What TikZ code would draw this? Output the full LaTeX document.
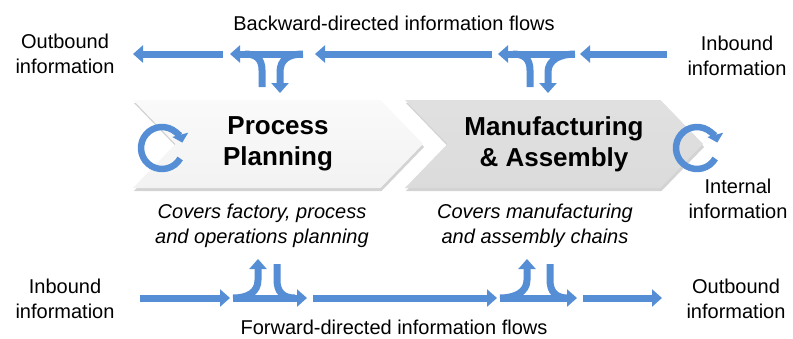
\documentclass[tikz,border=0pt]{standalone}
\usepackage{fontspec}
\setmainfont{Liberation Sans}
\usetikzlibrary{shapes.symbols,
                arrows.meta,
                shadows}
\definecolor{flowblue}{RGB}{85,142,213}
\tikzset{chevron/.style=
   {signal,
    signal from=west,
    signal to=east,
    signal pointer angle=92,
    minimum height=88pt,
    inner sep=0pt,
    align=center,
    font=\fontsize{26}{31}\selectfont\bfseries,
    drop shadow={shadow xshift=1pt, shadow yshift=-3pt, opacity=.35}}}
\tikzset{txt/.style = {align=center, font=\fontsize{20}{25}\selectfont}}
\tikzset{flow/.style = {draw=flowblue, line width=7pt, -{Triangle[width=17pt,length=10pt]}}}
\tikzset{branch/.style = {draw=flowblue, line width=7pt}}
\tikzset{loopflow/.style = {draw=flowblue, line width=6.5pt, -{Triangle[width=16pt,length=8pt]}}}

\begin{document}
\begin{tikzpicture}[x=1pt, y=-1pt]
    \useasboundingbox (0,0) rectangle (793,338);

    % Blocks
    \node [chevron, minimum width=298pt, top color=gray!24, bottom color=gray!28]
        (assembly) at (554,144) {Manufacturing\\\& Assembly};
    \node [chevron, minimum width=290pt, top color=gray!4, bottom color=gray!10]
        (planning) at (278,144) {Process\\Planning};

    % Internal loops
    \coordinate (loop1) at (162,148);
    \coordinate (loop2) at (697,148);
    \path [loopflow] ([shift={(30:21)}] loop1) arc [start angle=30, end angle=345, radius=21];
    \path [loopflow] ([shift={(30:21)}] loop2) arc [start angle=30, end angle=345, radius=21];

    % Texts
    \node [txt] (backtitle) at (394,23) {Backward-directed information flows};
    \node [txt] (fwdtitle) at (394,327) {Forward-directed information flows};
    \node [txt] (outtop) at (65,54) {Outbound\\information};
    \node [txt] (intop) at (737,56) {Inbound\\information};
    \node [txt] (internal) at (738,199) {Internal\\information};
    \node [txt] (inbottom) at (65,299) {Inbound\\information};
    \node [txt] (outbottom) at (736,299) {Outbound\\information};
    \node [txt, font=\fontsize{20}{25}\selectfont\itshape] (coverplan) at (262,226)
        {Covers factory, process\\and operations planning};
    \node [txt, font=\fontsize{20}{25}\selectfont\itshape] (coverasm) at (535,226)
        {Covers manufacturing\\and assembly chains};

    % Draw edges
    % Backward flows
    \path [flow] (223,54) -- (133,54);
    \path [flow] (303,54) -- (230,54);
    \path [branch] (262,87) -- (262,70) .. controls (262,59) and (256,54) .. (245,54);
    \path [flow] (303,54) .. controls (288,54) and (280,60) .. (280,72) -- (280,93);
    \path [flow] (492,54) -- (315,54);
    \path [flow] (575,54) -- (498,54);
    \path [branch] (530,87) -- (530,70) .. controls (530,59) and (524,54) .. (513,54);
    \path [flow] (575,54) .. controls (560,54) and (548,60) .. (548,72) -- (548,93);
    \path [flow] (667,54) -- (580,54);

    % Forward flows
    \path [flow] (140,298) -- (230,298);
    \path [flow] (233,298) -- (307,298);
    \path [flow] (233,298) .. controls (248,298) and (258,292) .. (258,280) -- (258,259);
    \path [branch] (277,264) -- (277,280) .. controls (277,292) and (283,298) .. (295,298);
    \path [flow] (313,298) -- (497,298);
    \path [flow] (500,298) -- (577,298);
    \path [flow] (500,298) .. controls (515,298) and (527,292) .. (527,280) -- (527,259);
    \path [branch] (550,264) -- (550,280) .. controls (550,292) and (556,298) .. (568,298);
    \path [flow] (583,298) -- (662,298);

\end{tikzpicture}
\end{document}
